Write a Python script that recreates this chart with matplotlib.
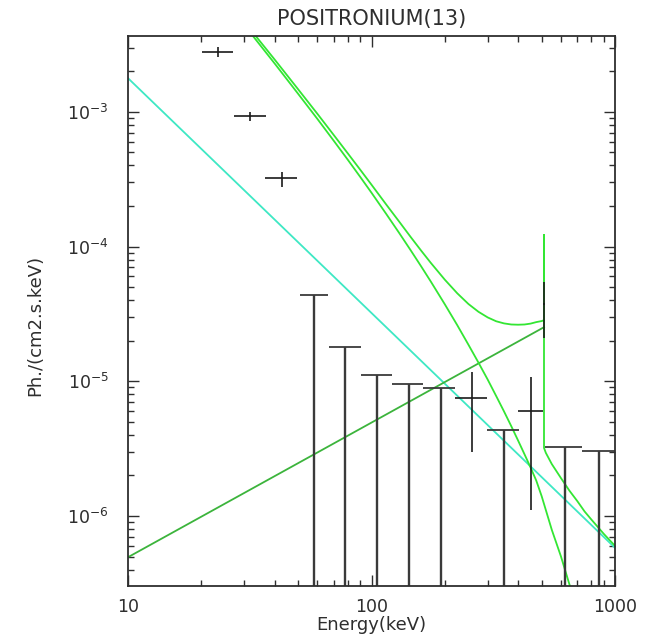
import numpy as np
import matplotlib
matplotlib.use("Agg")
import matplotlib.pyplot as plt
from matplotlib.ticker import LogLocator, FuncFormatter, NullFormatter

# detected points: energy bin (keV) and flux with errors, Ph/(cm2 s keV)
det_e = [23.4, 31.7, 42.9, 258.8, 452.0, 511.0]
det_elo = [20.1, 27.2, 36.6, 220.0, 400.0, 508.0]
det_ehi = [27.0, 36.9, 49.4, 298.0, 506.0, 514.0]
det_flux = [2.79e-3, 9.34e-4, 3.23e-4, 7.48e-6, 6.02e-6, 3.76e-5]
det_fhi = [3.04e-3, 1.00e-3, 3.60e-4, 1.18e-5, 1.08e-5, 5.50e-5]
det_flo = [2.56e-3, 8.60e-4, 2.77e-4, 3.00e-6, 1.10e-6, 2.10e-5]

# upper limits
ul_e = [58.0, 77.8, 105.7, 142.9, 192.2, 350.0, 623.6, 859.0]
ul_elo = [50.8, 66.9, 90.6, 121.4, 162.7, 298.0, 516.0, 732.0]
ul_ehi = [66.2, 90.6, 121.4, 162.7, 220.0, 403.0, 732.0, 1000.0]
ul_flux = [4.38e-5, 1.79e-5, 1.11e-5, 9.5e-6, 8.97e-6, 4.35e-6, 3.24e-6, 3.04e-6]

# model components
pl_e = [10.0, 1000.0]
pl_flux = [1.78e-3, 5.8e-7]

ps_e = [10.0, 511.0]
ps_flux = [4.94e-7, 2.52e-5]

cut_e = [25, 30, 40, 50, 60, 70, 80, 90, 100, 115, 130, 145, 160, 175, 200,
         225, 250, 275, 300, 325, 350, 375, 400, 425, 450, 475, 500, 550,
         600, 650, 700]
cut_flux = [6.67e-3, 4.42e-3, 2.29e-3, 1.36e-3, 8.85e-4, 6.10e-4, 4.40e-4,
            3.28e-4, 2.51e-4, 1.745e-4, 1.26e-4, 9.36e-5, 7.12e-5, 5.52e-5,
            3.73e-5, 2.61e-5, 1.87e-5, 1.375e-5, 1.03e-5, 7.78e-6, 5.98e-6,
            4.64e-6, 3.63e-6, 2.87e-6, 2.29e-6, 1.83e-6, 1.40e-6, 7.9e-7,
            5.0e-7, 3.1e-7, 2.1e-7]

tot_e = [25, 30, 40, 50, 60, 70, 80, 90, 100, 115, 130, 145, 160, 175, 200,
         225, 250, 275, 300, 325, 350, 375, 400, 425, 450, 475, 500, 511,
         511, 511, 520, 550, 600, 650, 700, 750, 800, 900, 1000]
tot_flux = [7.03e-3, 4.68e-3, 2.45e-3, 1.47e-3, 9.66e-4, 6.73e-4, 4.91e-4,
            3.71e-4, 2.88e-4, 2.05e-4, 1.53e-4, 1.175e-4, 9.32e-5, 7.59e-5,
            5.68e-5, 4.50e-5, 3.75e-5, 3.28e-5, 2.98e-5, 2.79e-5, 2.69e-5,
            2.64e-5, 2.63e-5, 2.64e-5, 2.68e-5, 2.75e-5, 2.80e-5, 2.84e-5,
            1.22e-4, 3.2e-6, 2.94e-6, 2.43e-6, 1.91e-6, 1.54e-6, 1.29e-6,
            1.08e-6, 9.4e-7, 7.35e-7, 6.0e-7]

YMIN, YMAX = 3.02e-7, 3.66e-3
ink = "#2e2e2e"

plt.rcParams["font.family"] = ["DejaVu Sans"]
fig = plt.figure(figsize=(6.47, 6.44), dpi=100)
ax = fig.add_axes([128 / 647, 58 / 644, 487 / 647, 550 / 644])
ax.set_xscale("log")
ax.set_yscale("log")
ax.set_xlim(10, 1000)
ax.set_ylim(YMIN, YMAX)

ax.plot(pl_e, pl_flux, color="#3ee8c4", lw=1.3)
ax.plot(ps_e, ps_flux, color="#3cb43c", lw=1.3)
ax.plot(cut_e, cut_flux, color="#33e633", lw=1.3)
ax.plot(tot_e, tot_flux, color="#33e633", lw=1.3)

# upper limits: bar from the bottom up to the limit, cap across the bin
ax.vlines(ul_e, YMIN, ul_flux, color="#3a3a3a", lw=1.7)
ax.hlines(ul_flux, ul_elo, ul_ehi, color="#3a3a3a", lw=1.3)

det_e = np.array(det_e)
det_flux = np.array(det_flux)
xerr = [det_e - np.array(det_elo), np.array(det_ehi) - det_e]
yerr = [det_flux - np.array(det_flo), np.array(det_fhi) - det_flux]
ax.errorbar(det_e, det_flux, xerr=xerr, yerr=yerr, fmt="none",
            ecolor="#1a1a1a", elinewidth=1.2, capsize=0)

for side in ax.spines.values():
    side.set_color(ink)
    side.set_linewidth(1.3)

ax.xaxis.set_major_locator(LogLocator(base=10))
ax.xaxis.set_minor_locator(LogLocator(base=10, subs=np.arange(2, 10)))
ax.yaxis.set_minor_locator(LogLocator(base=10, subs=np.arange(2, 10)))
ax.xaxis.set_major_formatter(FuncFormatter(lambda v, p: f"{v:g}"))
ax.xaxis.set_minor_formatter(NullFormatter())
ax.yaxis.set_minor_formatter(NullFormatter())
ax.tick_params(which="both", direction="in", top=True, right=True,
               color=ink, width=1.0, labelcolor=ink, labelsize=12.5)
ax.tick_params(which="major", length=8)
ax.tick_params(which="minor", length=4)
ax.tick_params(axis="x", which="major", pad=9)
ax.tick_params(axis="y", which="major", pad=14)

ax.set_title("POSITRONIUM(13)", fontsize=15, color=ink, pad=8)
ax.set_xlabel("Energy(keV)", fontsize=13, color=ink, labelpad=0)
ax.set_ylabel("Ph./(cm2.s.keV)", fontsize=13, color=ink)
ax.yaxis.set_label_coords((44 - 128) / 487, 0.473)

fig.savefig("out.png", dpi=100)
